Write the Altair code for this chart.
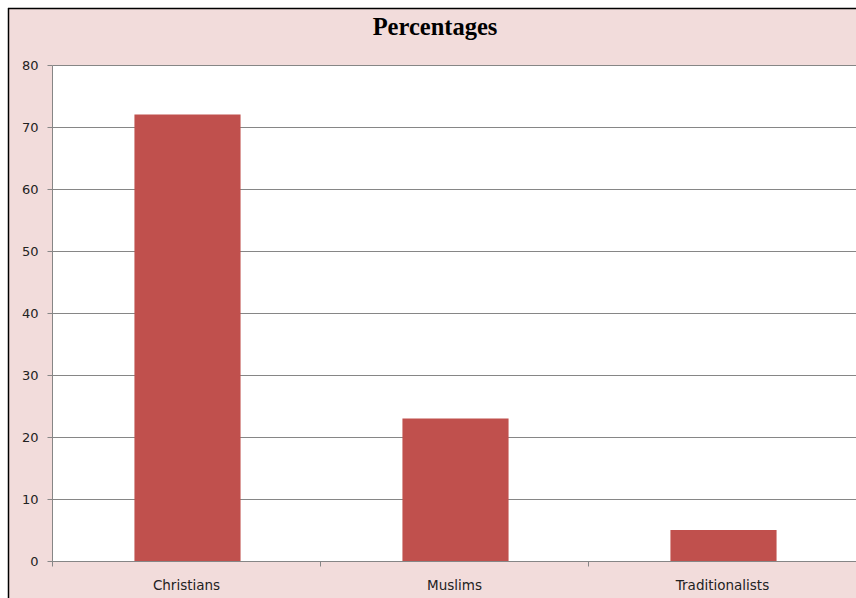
import altair as alt
import pandas as pd

categories = ["Christians", "Muslims", "Traditionalists"]
values = [72, 23, 5]
title_text = ["Percentages"]

df = pd.DataFrame({"group": categories, "pct": values})

W, H = 804, 496
PAD = {"left": 52, "top": 65, "right": 0, "bottom": 37}

bars = alt.Chart(df).mark_bar(color="#c0504d", width=alt.RelativeBandSize(0.396), xOffset=1.5).encode(
    x=alt.X("group:N", sort=categories, title=None,
            scale=alt.Scale(paddingInner=0, paddingOuter=0),
            axis=alt.Axis(labelAngle=0, tickBand="extent", tickSize=5,
                          labelPadding=12, labelFontSize=13.5,
                          domainColor="#868686", tickColor="#868686")),
    y=alt.Y("pct:Q", title=None,
            scale=alt.Scale(domain=[0, 80], nice=False),
            axis=alt.Axis(values=[0, 10, 20, 30, 40, 50, 60, 70, 80], tickSize=5,
                          labelPadding=9, grid=True, gridColor="#868686",
                          domainColor="#868686", tickColor="#868686")),
)

deco_df = pd.DataFrame({"k": [0]})
deco = alt.Chart(deco_df)
white_left = deco.mark_rect(color="white").encode(
    x=alt.value(-PAD["left"]), x2=alt.value(-PAD["left"] + 8),
    y=alt.value(-PAD["top"]), y2=alt.value(H + PAD["bottom"]))
white_top = deco.mark_rect(color="white").encode(
    x=alt.value(-PAD["left"]), x2=alt.value(W),
    y=alt.value(-PAD["top"]), y2=alt.value(-PAD["top"] + 8))
border_left = deco.mark_rule(color="black", strokeWidth=1.5).encode(
    x=alt.value(-PAD["left"] + 8.5),
    y=alt.value(-PAD["top"] + 8), y2=alt.value(H + PAD["bottom"]))
border_top = deco.mark_rule(color="black", strokeWidth=1.5).encode(
    x=alt.value(-PAD["left"] + 8), x2=alt.value(W),
    y=alt.value(-PAD["top"] + 8.5))

title = alt.Chart(pd.DataFrame({"t": title_text})).mark_text(
    font="Liberation Serif", fontSize=24.5, fontWeight="bold", color="black",
    align="center", baseline="alphabetic",
).encode(text="t:N", x=alt.value(435 - PAD["left"]), y=alt.value(35 - PAD["top"]))

chart = alt.layer(bars, white_left, white_top, border_left, border_top, title).properties(
    width=W, height=H,
    autosize=alt.AutoSizeParams(type="none"),
    padding=PAD,
    background="#f2dcdb",
).configure_view(fill="white", strokeWidth=0).configure_axis(
    labelFont="DejaVu Sans", labelFontSize=13, labelColor="#222222",
)

chart.save("out.html", embed_options={"renderer": "svg", "actions": False})
